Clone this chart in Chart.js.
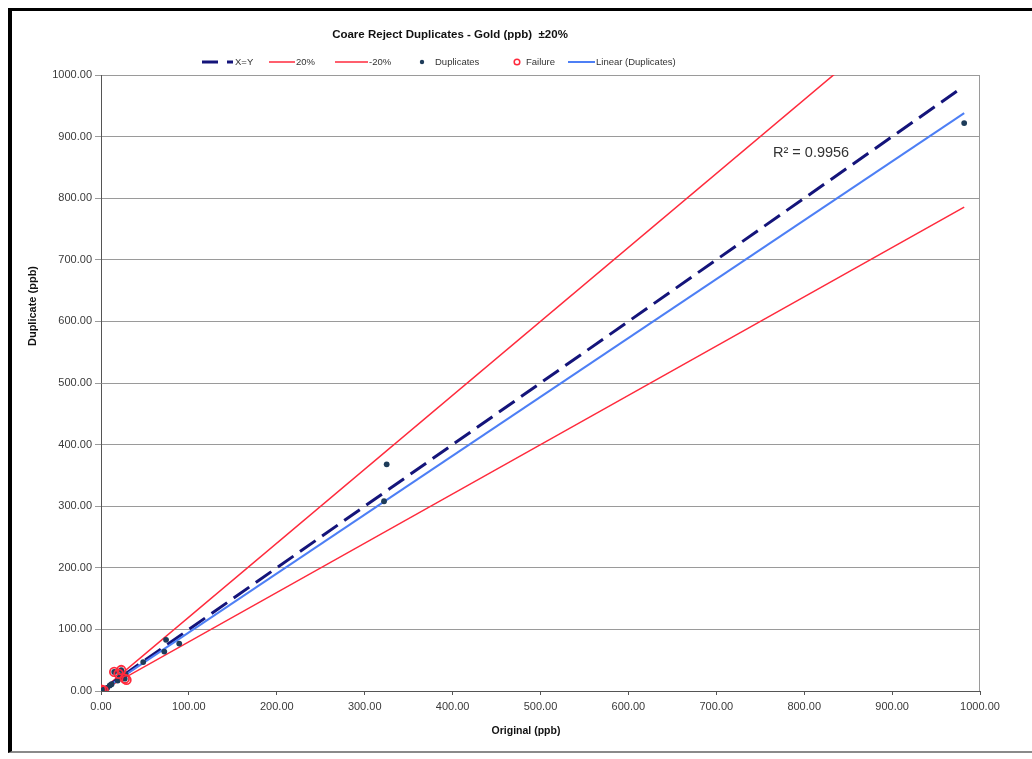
<!DOCTYPE html>
<html>
<head>
<meta charset="utf-8">
<script src="https://cdn.jsdelivr.net/npm/chart.js@4/dist/chart.umd.min.js"></script>
<style>
  html, body { margin: 0; padding: 0; background: #fff; }
  #wrap { position: relative; width: 1032px; height: 759px; overflow: hidden; }
  #frame { position: absolute; left: 8px; top: 8px; width: 1040px; height: 745px;
           border-left: 4px solid #000; border-top: 3px solid #000; border-bottom: 2px solid #8a8a8a;
           box-sizing: border-box; pointer-events: none; }
  canvas { position: absolute; left: 0; top: 0; }
</style>
</head>
<body>
<div id="wrap">
  <canvas id="c" width="1032" height="759"></canvas>
  <div id="frame"></div>
</div>
<script>
// Coarse reject duplicate pairs (ppb)
const duplicateOriginal = [982, 325, 322, 74, 89, 72, 48, 15, 23, 26, 19, 28, 21, 27, 0.5, 3, 7, 10, 12, 2];
const duplicateRepeat   = [922, 368, 308, 83, 77, 64, 47, 31, 34, 21, 17, 27, 25, 20, 2, 1, 5, 9, 11, 3];

// Pairs outside the ±20% envelope
const failureOriginal = [15, 23, 20, 27, 29, 0.5, 3];
const failureRepeat   = [31, 34, 28, 20, 18, 2, 1];

// Reference lines (end points, ppb)
const equalityX = [0, 978];
const equalityY = [0, 978];
const upperX = [0, 982];
const upperY = [0, 1178.4];
const lowerX = [0, 982];
const lowerY = [0, 785.6];

// Linear trend of the duplicates
const trendX = [0.5, 982];
const trendY = [0, 938];
const trendR2 = '0.9956';

const axisTicks = [0, 100, 200, 300, 400, 500, 600, 700, 800, 900, 1000];

const titleText = 'Coare Reject Duplicates - Gold (ppb)  \u00b120%';
const xTitle = 'Original (ppb)';
const yTitle = 'Duplicate (ppb)';

const FONT = '"Liberation Sans", Arial, sans-serif';
const NAVY = '#14147a';
const RED = '#ff2a3c';
const BLUE = '#4d7ff5';
const DOT = '#1e3c5a';

const pts = (xs, ys) => xs.map((x, i) => ({ x, y: ys[i] }));

// Title, legend, axis titles, R² label and right plot border
const decorations = {
  id: 'decorations',
  afterDraw(chart) {
    const ctx = chart.ctx;
    const a = chart.chartArea;
    ctx.save();

    // right edge of the plot area
    ctx.strokeStyle = '#9a9a9a';
    ctx.lineWidth = 1;
    ctx.beginPath();
    ctx.moveTo(a.right - 0.5, a.top);
    ctx.lineTo(a.right - 0.5, a.bottom);
    ctx.stroke();

    // title
    ctx.fillStyle = '#111';
    ctx.font = 'bold 11.5px ' + FONT;
    ctx.textAlign = 'center';
    ctx.textBaseline = 'middle';
    ctx.fillText(titleText, 450, 35);

    // legend
    const ly = 62;
    ctx.font = '9.5px ' + FONT;
    ctx.textAlign = 'left';
    ctx.fillStyle = '#333';

    ctx.strokeStyle = NAVY; ctx.lineWidth = 3;
    ctx.beginPath(); ctx.moveTo(202, ly); ctx.lineTo(218, ly); ctx.moveTo(227, ly); ctx.lineTo(233, ly); ctx.stroke();
    ctx.fillText('X=Y', 235, ly);

    ctx.strokeStyle = RED; ctx.lineWidth = 1.5;
    ctx.beginPath(); ctx.moveTo(269, ly); ctx.lineTo(295, ly); ctx.stroke();
    ctx.fillText('20%', 296, ly);

    ctx.beginPath(); ctx.moveTo(335, ly); ctx.lineTo(368, ly); ctx.stroke();
    ctx.fillText('-20%', 369, ly);

    ctx.fillStyle = DOT;
    ctx.beginPath(); ctx.arc(422, ly, 2.2, 0, Math.PI * 2); ctx.fill();
    ctx.fillStyle = '#333';
    ctx.fillText('Duplicates', 435, ly);

    ctx.strokeStyle = RED; ctx.lineWidth = 1.5;
    ctx.beginPath(); ctx.arc(517, ly, 2.8, 0, Math.PI * 2); ctx.stroke();
    ctx.fillText('Failure', 526, ly);

    ctx.strokeStyle = BLUE; ctx.lineWidth = 2;
    ctx.beginPath(); ctx.moveTo(568, ly); ctx.lineTo(595, ly); ctx.stroke();
    ctx.fillText('Linear (Duplicates)', 596, ly);

    // axis titles
    ctx.fillStyle = '#111';
    ctx.font = 'bold 10.5px ' + FONT;
    ctx.textAlign = 'center';
    ctx.fillText(xTitle, 526, 731);
    ctx.save();
    ctx.translate(33, 306);
    ctx.rotate(-Math.PI / 2);
    ctx.font = 'bold 11px ' + FONT;
    ctx.fillText(yTitle, 0, 0);
    ctx.restore();

    // R² of the trend
    ctx.fillStyle = '#333';
    ctx.font = '14.5px ' + FONT;
    ctx.textAlign = 'left';
    ctx.fillText('R\u00b2 = ' + trendR2, 773, 153);

    ctx.restore();
  }
};

const tickFmt = v => Number(v).toFixed(2);

new Chart(document.getElementById('c'), {
  type: 'scatter',
  data: {
    datasets: [
      { label: 'X=Y', data: pts(equalityX, equalityY), showLine: true, borderColor: NAVY,
        borderWidth: 3, borderDash: [19, 8], pointRadius: 0, order: 3 },
      { label: '20%', data: pts(upperX, upperY), showLine: true, borderColor: RED,
        borderWidth: 1.5, pointRadius: 0, order: 5 },
      { label: '-20%', data: pts(lowerX, lowerY), showLine: true, borderColor: RED,
        borderWidth: 1.5, pointRadius: 0, order: 4 },
      { label: 'Duplicates', data: pts(duplicateOriginal, duplicateRepeat), showLine: false,
        pointRadius: 2.9, pointBackgroundColor: DOT, pointBorderColor: DOT, pointBorderWidth: 0, order: 1 },
      { label: 'Failure', data: pts(failureOriginal, failureRepeat), showLine: false,
        pointRadius: 4.3, pointBackgroundColor: 'rgba(0,0,0,0)', pointBorderColor: RED, pointBorderWidth: 1.8, order: 0 },
      { label: 'Linear (Duplicates)', data: pts(trendX, trendY), showLine: true, borderColor: BLUE,
        borderWidth: 2, pointRadius: 0, order: 2 }
    ]
  },
  options: {
    responsive: false,
    animation: false,
    events: [],
    layout: { padding: { left: 0, right: 52, top: 75, bottom: 0 } },
    plugins: { legend: { display: false }, title: { display: false }, tooltip: { enabled: false } },
    scales: {
      x: {
        type: 'linear', min: 0, max: 1000,
        afterBuildTicks: s => { s.ticks = axisTicks.map(v => ({ value: v })); },
        afterFit: s => { s.height = 68; },
        border: { display: true, color: '#555', width: 1 },
        grid: { drawOnChartArea: false, drawTicks: true, tickLength: 4, color: '#555' },
        ticks: { callback: tickFmt, color: '#3a3a3a', font: { family: FONT, size: 11 }, padding: 5, maxRotation: 0 }
      },
      y: {
        type: 'linear', min: 0, max: 1000,
        afterBuildTicks: s => { s.ticks = axisTicks.map(v => ({ value: v })); },
        afterFit: s => { s.width = 101; },
        border: { display: true, color: '#555', width: 1 },
        grid: { drawOnChartArea: true, drawTicks: true, tickLength: 6, color: '#9a9a9a' },
        ticks: { callback: tickFmt, color: '#3a3a3a', font: { family: FONT, size: 11 }, padding: 3 }
      }
    }
  },
  plugins: [decorations]
});
</script>
</body>
</html>
